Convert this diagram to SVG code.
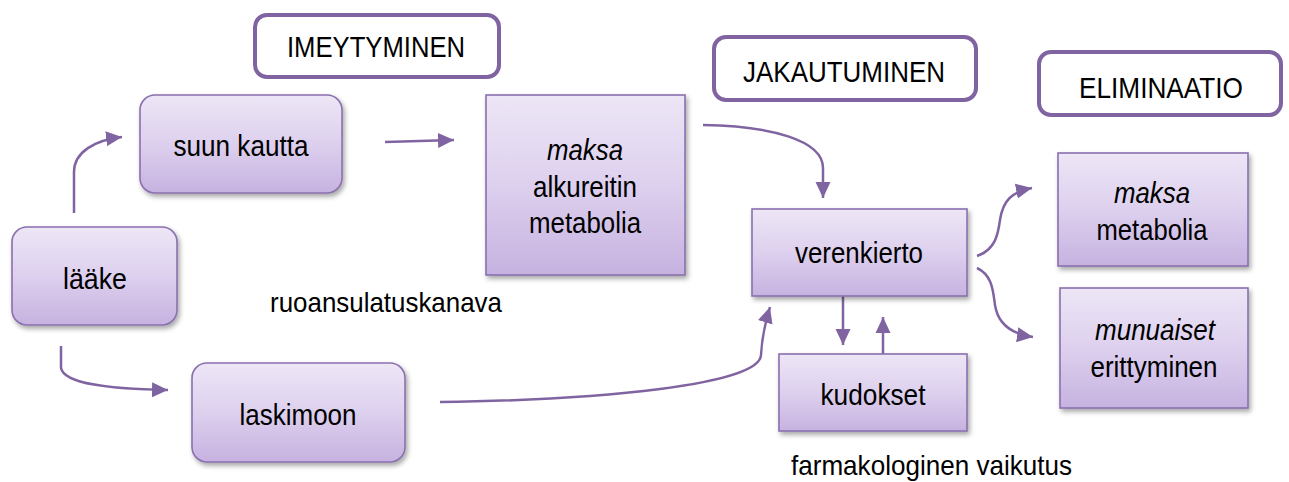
<svg xmlns="http://www.w3.org/2000/svg" width="1289" height="482" viewBox="0 0 1289 482">
<style>
.box{fill:url(#g);stroke:#8a70ae;stroke-width:1.6;filter:url(#sh)}
.hdr{fill:#fff;stroke:#8064a2;stroke-width:4}
.t{font-family:"Liberation Sans",Arial,sans-serif;font-size:29px;fill:#000;text-anchor:middle}
.h{font-family:"Liberation Sans",Arial,sans-serif;font-size:30px;fill:#000;text-anchor:middle}
.l{font-family:"Liberation Sans",Arial,sans-serif;font-size:28px;fill:#000}
.i{font-style:italic}
.c{fill:none;stroke:#8064a2;stroke-width:2.5;marker-end:url(#a)}
</style>
<defs>
<linearGradient id="g" x1="0" y1="0" x2="0" y2="1">
<stop offset="0" stop-color="#ede6f6"/>
<stop offset="0.5" stop-color="#ddd0ee"/>
<stop offset="1" stop-color="#c6b2e0"/>
</linearGradient>
<filter id="sh" x="-10%" y="-10%" width="125%" height="130%">
<feDropShadow dx="2" dy="3" stdDeviation="2.5" flood-color="#000" flood-opacity="0.35"/>
</filter>
<marker id="a" markerUnits="userSpaceOnUse" markerWidth="17" markerHeight="17" refX="16" refY="8.5" orient="auto" viewBox="0 0 17 17">
<path d="M0,1 L16,8.5 L0,16 z" fill="#8064a2"/>
</marker>
</defs>

<g id="hdr-imeytyminen"><rect class="hdr" x="255" y="15" width="244" height="62" rx="12"/><text class="h" x="376" y="57" textLength="178" lengthAdjust="spacingAndGlyphs">IMEYTYMINEN</text></g>
<g id="hdr-jakautuminen"><rect class="hdr" x="714" y="37" width="262" height="63" rx="12"/><text class="h" x="844" y="82" textLength="202" lengthAdjust="spacingAndGlyphs">JAKAUTUMINEN</text></g>
<g id="hdr-eliminaatio"><rect class="hdr" x="1039" y="52" width="242" height="63" rx="12"/><text class="h" x="1161" y="98" textLength="164" lengthAdjust="spacingAndGlyphs">ELIMINAATIO</text></g>

<g id="connectors">
<path class="c" d="M74,213 L74,172 C74,152 95,140 122,137"/>
<path class="c" d="M385,142 L454,140"/>
<path class="c" d="M703,125 C770,126 823,140 823,168 L823,198"/>
<path class="c" d="M440,402 C600,400 760,385 761,355 C762,335 766,320 770,307"/>
<path class="c" d="M61,346 L61,368 C64,384 110,389 168,390"/>
<path class="c" d="M843,292 L843,345"/>
<path class="c" d="M883,368 L883,317"/>
<path class="c" d="M977,256 C995,250 998,235 1000,220 C1003,200 1012,192 1032,188"/>
<path class="c" d="M977,268 C992,275 993,290 995,305 C998,325 1012,334 1033,337"/>
</g>

<g id="laake"><rect class="box" x="12" y="227" width="165" height="98" rx="15"/><text class="t" x="95" y="289" textLength="64" lengthAdjust="spacingAndGlyphs">lääke</text></g>
<g id="suun-kautta"><rect class="box" x="140" y="95" width="202" height="98" rx="15"/><text class="t" x="241" y="156" textLength="135" lengthAdjust="spacingAndGlyphs">suun kautta</text></g>
<g id="laskimoon"><rect class="box" x="192" y="363" width="213" height="99" rx="15"/><text class="t" x="298" y="425" textLength="117" lengthAdjust="spacingAndGlyphs">laskimoon</text></g>
<g id="maksa-alkureitin"><rect class="box" x="486" y="95" width="199" height="180"/>
<text class="t i" x="585" y="160" textLength="76" lengthAdjust="spacingAndGlyphs">maksa</text>
<text class="t" x="585" y="197" textLength="104" lengthAdjust="spacingAndGlyphs">alkureitin</text>
<text class="t" x="585" y="233" textLength="112" lengthAdjust="spacingAndGlyphs">metabolia</text></g>
<g id="verenkierto"><rect class="box" x="752" y="209" width="215" height="87"/><text class="t" x="859" y="263" textLength="128" lengthAdjust="spacingAndGlyphs">verenkierto</text></g>
<g id="kudokset"><rect class="box" x="779" y="354" width="188" height="77"/><text class="t" x="873" y="405" textLength="105" lengthAdjust="spacingAndGlyphs">kudokset</text></g>
<g id="maksa-metabolia"><rect class="box" x="1058" y="153" width="190" height="113"/>
<text class="t i" x="1152" y="203" textLength="76" lengthAdjust="spacingAndGlyphs">maksa</text>
<text class="t" x="1152" y="240" textLength="111" lengthAdjust="spacingAndGlyphs">metabolia</text></g>
<g id="munuaiset"><rect class="box" x="1060" y="288" width="188" height="120"/>
<text class="t i" x="1155" y="340" textLength="120" lengthAdjust="spacingAndGlyphs">munuaiset</text>
<text class="t" x="1154" y="377" textLength="127" lengthAdjust="spacingAndGlyphs">erittyminen</text></g>

<g id="labels">
<text class="l" x="270" y="312" textLength="232" lengthAdjust="spacingAndGlyphs">ruoansulatuskanava</text>
<text class="l" x="791" y="475" textLength="281" lengthAdjust="spacingAndGlyphs">farmakologinen vaikutus</text>
</g>
</svg>
